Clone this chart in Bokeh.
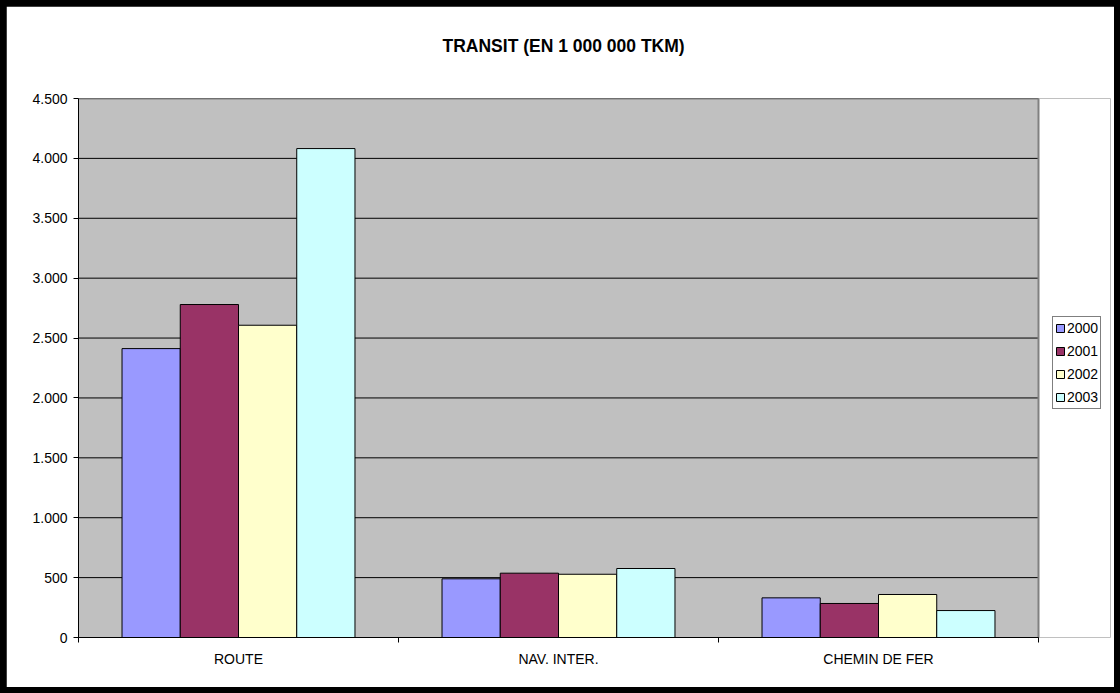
from bokeh.plotting import figure
from bokeh.models import (Range1d, FixedTicker, Legend, LegendItem, Title,
                          ColumnDataSource, BoxAnnotation)
from bokeh.layouts import column
from bokeh.embed import file_html
from bokeh.resources import INLINE

# ---- data ----
title_text = "TRANSIT (EN 1 000 000 TKM)"
categories = ["ROUTE", "NAV. INTER.", "CHEMIN DE FER"]
years = ["2000", "2001", "2002", "2003"]
v2000 = [2412, 490, 331]
v2001 = [2780, 537, 284]
v2002 = [2607, 528, 359]
v2003 = [4082, 576, 225]
y_ticks = [0, 500, 1000, 1500, 2000, 2500, 3000, 3500, 4000, 4500]
colors = ["#9999FF", "#993366", "#FFFFCC", "#CCFFFF"]

series = [v2000, v2001, v2002, v2003]

FONT = "Liberation Sans"
n_cat = len(categories)
y_max = y_ticks[-1]

PLOT_W = 960          # pixel width of the grey plot area
FRAME_W = 1032        # frame includes room for the legend on the right
x_end = n_cat * FRAME_W / PLOT_W

p = figure(frame_width=FRAME_W, frame_height=539, output_backend="svg",
           toolbar_location=None, title=None, tools="",
           x_range=Range1d(0, x_end), y_range=Range1d(0, y_max),
           min_border_left=72, min_border_right=4, min_border_top=92,
           min_border_bottom=50,
           outline_line_color=None, outline_line_width=0, outline_line_alpha=0,
           background_fill_color="white", border_fill_color="white")

# grey plot area
p.add_layout(BoxAnnotation(left=0, right=n_cat, bottom=0, top=y_max,
                           fill_color="#C0C0C0", fill_alpha=1,
                           line_color=None, level="underlay"))

# titles: spacer first (closest to frame), then the real title
spacer = Title(text=" ", text_font_size="1px", standoff=40, text_color="white")
p.add_layout(spacer, "above")
main_title = Title(text=title_text, align="left", offset=364, standoff=0,
                   text_font=FONT, text_font_size="17.5px",
                   text_font_style="bold", text_color="black")
p.add_layout(main_title, "above")

# horizontal grid lines (within plot area only)
p.segment(x0=[0] * len(y_ticks), x1=[n_cat] * len(y_ticks),
          y0=y_ticks, y1=y_ticks, line_color="black", line_width=1)

# bars
bar_w = 0.182
items = []
for i, (yr, vals, col) in enumerate(zip(years, series, colors)):
    off = (i - 1.5) * bar_w
    src = ColumnDataSource(dict(x=[k + 0.5 + off for k in range(n_cat)], top=vals))
    r = p.vbar(x="x", top="top", bottom=0, width=bar_w, source=src,
               fill_color=col, line_color="black", line_width=1)
    items.append(LegendItem(label=yr, renderers=[r]))

# grey top / right border of plot area
p.segment(x0=[0, n_cat], x1=[n_cat, n_cat], y0=[y_max, 0], y1=[y_max, y_max],
          line_color="#808080", line_width=2)

p.xgrid.visible = False
p.ygrid.visible = False

# y axis
p.yaxis.ticker = FixedTicker(ticks=y_ticks)
p.yaxis.major_label_overrides = {t: f"{t:,}".replace(",", ".") for t in y_ticks}
p.yaxis.major_label_text_font = FONT
p.yaxis.major_label_text_font_size = "14px"
p.yaxis.major_label_text_color = "black"
p.yaxis.major_tick_in = 0
p.yaxis.major_tick_out = 5
p.yaxis.major_tick_line_color = "black"
p.yaxis.minor_tick_line_color = None
p.yaxis.axis_line_color = "black"
p.yaxis.major_label_standoff = 6

# x axis
p.xaxis.ticker = FixedTicker(ticks=[k + 0.5 for k in range(n_cat)],
                             minor_ticks=list(range(n_cat + 1)))
p.xaxis.bounds = (0, n_cat)
p.xaxis.major_label_overrides = {k + 0.5: c for k, c in enumerate(categories)}
p.xaxis.major_label_text_font = FONT
p.xaxis.major_label_text_font_size = "14px"
p.xaxis.major_label_text_color = "black"
p.xaxis.major_tick_line_color = None
p.xaxis.major_tick_in = 0
p.xaxis.major_tick_out = 5
p.xaxis.minor_tick_in = 0
p.xaxis.minor_tick_out = 5
p.xaxis.minor_tick_line_color = "black"
p.xaxis.axis_line_color = "black"
p.xaxis.major_label_standoff = 8

# legend (inside frame, to the right of the grey plot area)
legend = Legend(items=items, location=(974, 228))
legend.border_line_color = "black"
legend.border_line_width = 1
legend.background_fill_color = "white"
legend.background_fill_alpha = 1
legend.label_text_font = FONT
legend.label_text_font_size = "14px"
legend.label_text_color = "black"
legend.glyph_width = 10
legend.glyph_height = 10
legend.label_height = 18
legend.label_standoff = 2
legend.spacing = 5
legend.padding = 2
legend.margin = 0
p.add_layout(legend)

# outer black chart border via a padded black container
layout = column(p, styles={"background-color": "black", "padding": "6px"})

open("out.html", "w").write(file_html(layout, INLINE))
